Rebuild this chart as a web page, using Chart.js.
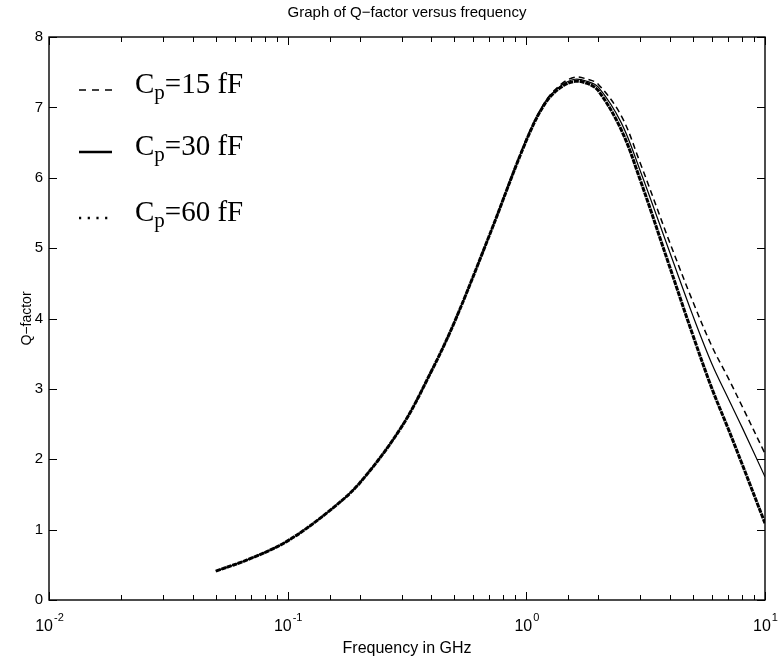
<!DOCTYPE html>
<html>
<head>
<meta charset="utf-8">
<title>Q-factor versus frequency</title>
<script src="https://cdn.jsdelivr.net/npm/chart.js@4/dist/chart.umd.min.js"></script>
<style>
  html, body { margin: 0; padding: 0; background: #fff; }
  #qChart { display: block; }
</style>
</head>
<body>
<canvas id="qChart" width="778" height="659"></canvas>
<script>
"use strict";

// frequency points (GHz) and Q for each parasitic capacitance
const freqGHz = [0.05, 0.07, 0.1, 0.15, 0.2, 0.3, 0.4, 0.5, 0.7, 1.0, 1.2, 1.4, 1.6, 1.8, 2.0, 2.5, 3.0, 4.0, 5.0, 6.0, 7.0, 8.0, 10.0];
const q15fF = [0.41, 0.59, 0.84, 1.27, 1.66, 2.46, 3.25, 3.95, 5.18, 6.55, 7.08, 7.33, 7.43, 7.40, 7.33, 6.88, 6.21, 5.07, 4.23, 3.60, 3.16, 2.76, 2.08];
const q30fF = [0.41, 0.59, 0.84, 1.27, 1.66, 2.46, 3.25, 3.95, 5.18, 6.54, 7.07, 7.31, 7.40, 7.37, 7.29, 6.78, 6.10, 4.93, 4.03, 3.35, 2.87, 2.46, 1.75];
const q60fF = [0.41, 0.59, 0.84, 1.27, 1.66, 2.46, 3.25, 3.95, 5.18, 6.53, 7.06, 7.29, 7.37, 7.34, 7.24, 6.68, 5.97, 4.72, 3.75, 3.00, 2.44, 1.94, 1.09];

const seriesLabels = ["Cp=15 fF", "Cp=30 fF", "Cp=60 fF"];
const xTickValues = [0.01, 0.1, 1, 10];
const xTickBase = ["10", "10", "10", "10"];
const xTickExp = ["-2", "-1", "0", "1"];
const yTickLabels = ["0", "1", "2", "3", "4", "5", "6", "7", "8"];

function toPoints(ys) {
  return freqGHz.map((f, i) => ({ x: f, y: ys[i] }));
}

function isDecade(v) {
  const e = Math.log10(v);
  return Math.abs(e - Math.round(e)) < 1e-6;
}

// matlab style box with inward ticks, plus the 10^n labels
const axesBox = {
  id: "axesBox",
  afterDatasetsDraw(chart) {
    const { ctx, chartArea: a, scales } = chart;
    const x = scales.x, y = scales.y;
    ctx.save();
    ctx.strokeStyle = "#000";
    ctx.lineWidth = 1.4;
    ctx.strokeRect(a.left, a.top, a.right - a.left, a.bottom - a.top);
    ctx.lineWidth = 1;
    ctx.beginPath();
    x.ticks.forEach(t => {
      const px = Math.round(x.getPixelForValue(t.value)) + 0.5;
      const len = isDecade(t.value) ? 8 : 5;
      ctx.moveTo(px, a.bottom); ctx.lineTo(px, a.bottom - len);
      ctx.moveTo(px, a.top); ctx.lineTo(px, a.top + len);
    });
    y.ticks.forEach(t => {
      const py = Math.round(y.getPixelForValue(t.value)) + 0.5;
      ctx.moveTo(a.left, py); ctx.lineTo(a.left + 8, py);
      ctx.moveTo(a.right, py); ctx.lineTo(a.right - 8, py);
    });
    ctx.stroke();

    // decade labels with a raised exponent
    ctx.fillStyle = "#000";
    ctx.textBaseline = "alphabetic";
    ctx.textAlign = "left";
    const baseFont = "16px 'Liberation Sans', Arial, sans-serif";
    const expFont = "11px 'Liberation Sans', Arial, sans-serif";
    xTickValues.forEach((v, i) => {
      const px = x.getPixelForValue(v);
      ctx.font = baseFont;
      const wb = ctx.measureText(xTickBase[i]).width;
      ctx.font = expFont;
      const we = ctx.measureText(xTickExp[i]).width;
      const left = px - (wb + we) / 2;
      ctx.font = baseFont;
      ctx.fillText(xTickBase[i], left, a.bottom + 31);
      ctx.font = expFont;
      ctx.fillText(xTickExp[i], left + wb + 1, a.bottom + 21);
    });
    ctx.restore();
  }
};

// legend inside the plot, "C" with subscript "p"
const legendRows = [56, 118, 184];
const curveLegend = {
  id: "curveLegend",
  afterDatasetsDraw(chart) {
    const { ctx, chartArea: a } = chart;
    ctx.save();
    ctx.fillStyle = "#000";
    ctx.strokeStyle = "#000";
    ctx.textBaseline = "alphabetic";
    ctx.textAlign = "left";
    chart.data.datasets.forEach((ds, i) => {
      const base = a.top + legendRows[i];
      ctx.lineWidth = ds.legendWidth;
      ctx.setLineDash(ds.legendDash);
      ctx.beginPath();
      ctx.moveTo(a.left + 30, base - 3);
      ctx.lineTo(a.left + 63, base - 3);
      ctx.stroke();
      ctx.setLineDash([]);

      const label = ds.label;
      let tx = a.left + 86;
      ctx.font = "29px 'Liberation Serif', 'Times New Roman', serif";
      ctx.fillText(label[0], tx, base);
      tx += ctx.measureText(label[0]).width;
      ctx.font = "21px 'Liberation Serif', 'Times New Roman', serif";
      ctx.fillText(label[1], tx, base + 6);
      tx += ctx.measureText(label[1]).width;
      ctx.font = "29px 'Liberation Serif', 'Times New Roman', serif";
      ctx.fillText(label.slice(2), tx, base);
    });
    ctx.restore();
  }
};

Chart.defaults.font.family = "'Liberation Sans', Arial, Helvetica, sans-serif";
Chart.defaults.color = "#000";

const ctx = document.getElementById("qChart").getContext("2d");
new Chart(ctx, {
  type: "line",
  data: {
    datasets: [
      {
        label: seriesLabels[0],
        data: toPoints(q15fF),
        borderColor: "#000",
        borderWidth: 1.5,
        borderDash: [6, 4],
        legendDash: [7, 6],
        legendWidth: 1.6,
        pointRadius: 0,
        tension: 0.35,
        fill: false
      },
      {
        label: seriesLabels[1],
        data: toPoints(q30fF),
        borderColor: "#000",
        borderWidth: 1.2,
        legendDash: [],
        legendWidth: 2.6,
        pointRadius: 0,
        tension: 0.35,
        fill: false
      },
      {
        label: seriesLabels[2],
        data: toPoints(q60fF),
        borderColor: "#000",
        borderWidth: 3,
        borderDash: [5, 0.8],
        legendDash: [2.2, 6.5],
        legendWidth: 2.4,
        pointRadius: 0,
        tension: 0.35,
        fill: false
      }
    ]
  },
  options: {
    responsive: false,
    animation: false,
    layout: { padding: { left: 0, right: 13, top: 0, bottom: 0 } },
    plugins: {
      legend: { display: false },
      tooltip: { enabled: false },
      title: {
        display: true,
        fullSize: false,
        text: "Graph of Q\u2212factor versus frequency",
        font: { size: 15, weight: "normal" },
        color: "#000",
        padding: { top: 4, bottom: 15 }
      }
    },
    scales: {
      x: {
        type: "logarithmic",
        min: 0.01,
        max: 10,
        grid: { display: false, drawTicks: false },
        border: { display: false },
        ticks: {
          autoSkip: false,
          maxRotation: 0,
          padding: 0,
          font: { size: 15 },
          color: "#000",
          callback: () => ""
        },
        title: {
          display: true,
          text: "Frequency in GHz",
          font: { size: 16 },
          color: "#000",
          padding: { top: 0, bottom: 1 }
        },
        afterFit: (s) => { s.height = 59; }
      },
      y: {
        min: 0,
        max: 8,
        grid: { display: false, drawTicks: false },
        border: { display: false },
        ticks: {
          stepSize: 1,
          padding: 6,
          font: { size: 15 },
          color: "#000",
          callback: (v) => yTickLabels[v] ?? ""
        },
        title: {
          display: true,
          text: "Q\u2212factor",
          font: { size: 14 },
          color: "#000",
          padding: { top: 19, bottom: 0 }
        },
        afterFit: (s) => { s.width = 49; }
      }
    }
  },
  plugins: [axesBox, curveLegend]
});
</script>
</body>
</html>
